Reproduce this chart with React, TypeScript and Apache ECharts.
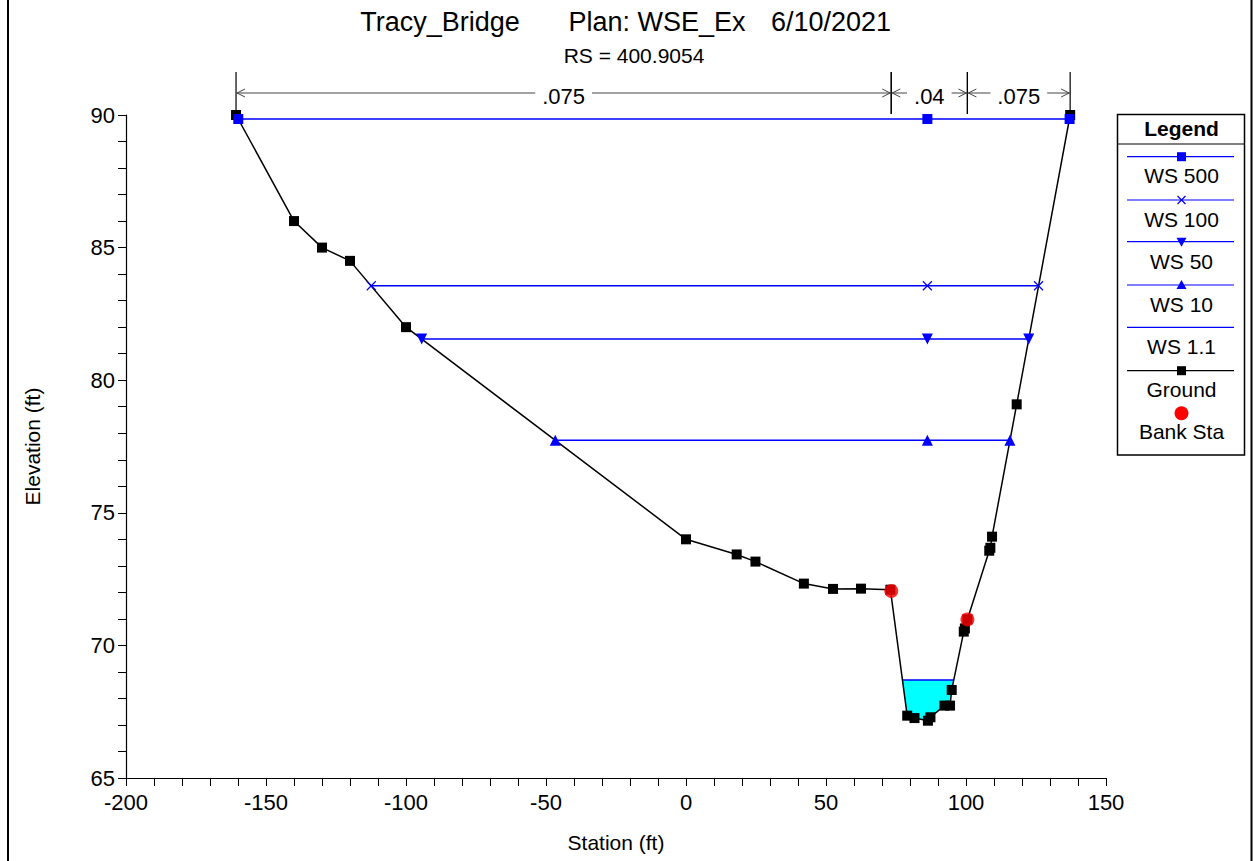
import { useEffect, useRef } from "react";
import * as echarts from "echarts";

// ---------- data ----------
const groundSta = [-160.7, -140, -130, -120, -100, 0, 18.1, 24.8, 42.1, 52.5, 62.5, 73, 79, 81.6, 86.4, 87.3, 92.3, 94.3, 94.9, 99.2, 99.6, 100.5, 108.3, 108.7, 109.3, 118.1, 137.2];
const groundElev = [90, 86, 85, 84.5, 82, 74, 73.43, 73.16, 72.33, 72.13, 72.14, 72.1, 67.35, 67.26, 67.16, 67.29, 67.73, 67.73, 68.32, 70.52, 70.64, 70.98, 73.57, 73.68, 74.1, 79.09, 90];

const bankSta = [73.3, 100.5];
const bankElev = [72.05, 70.98];

const ws500Sta = [-159.9, 86.2, 137.0];
const ws500Elev = [89.85, 89.85, 89.85];
const ws100Sta = [-112.4, 86.2, 125.9];
const ws100Elev = [83.56, 83.56, 83.56];
const ws50Sta = [-94.4, 86.2, 122.4];
const ws50Elev = [81.55, 81.55, 81.55];
const ws10Sta = [-46.7, 86.2, 115.7];
const ws10Elev = [77.74, 77.74, 77.74];
const ws11Sta = [77.3, 95.5];
const ws11Elev = [68.7, 68.7];

const fillSta = [77.3, 79, 81.6, 86.4, 87.3, 92.3, 94.3, 94.9, 95.5];
const fillElev = [68.7, 67.35, 67.26, 67.16, 67.29, 67.73, 67.73, 68.32, 68.7];

const nSta = [-160.7, 73.3, 100.5, 137.2];
const nVals = [".075", ".04", ".075"];

const legendNames = ["WS 500", "WS 100", "WS 50", "WS 10", "WS 1.1", "Ground", "Bank Sta"];

const titleParts = ["Tracy_Bridge", "Plan: WSE_Ex", "6/10/2021"];
const subTitle = "RS = 400.9054";

const FONT = '"Liberation Sans", Arial, Helvetica, sans-serif';
const BLUE = "#0000ff";

function zip(a: number[], b: number[]) {
  return a.map((v, i) => [v, b[i]]);
}

let measureCtx: CanvasRenderingContext2D | null = null;
function textWidth(t: string, font: string) {
  if (!measureCtx) measureCtx = document.createElement("canvas").getContext("2d");
  if (!measureCtx) return t.length * 10;
  measureCtx.font = font;
  return measureCtx.measureText(t).width;
}

function legendGraphic() {
  const els: any[] = [];
  const left = 1117.5, top = 114.5, w = 127, h = 340.5;
  const cx = left + w / 2 + 0.5;
  els.push({ type: "rect", shape: { x: left, y: top, width: w, height: h }, style: { fill: "#fff", stroke: "#000", lineWidth: 1.5 }, z: 100 });
  els.push({ type: "line", shape: { x1: left, y1: 144, x2: left + w, y2: 144 }, style: { stroke: "#000", lineWidth: 1.2 }, z: 101 });
  els.push({ type: "text", x: cx, y: 128, style: { text: "Legend", font: `bold 21px ${FONT}`, fill: "#000", textAlign: "center", textVerticalAlign: "middle" }, z: 101 });
  const lineYs = [156.7, 200, 241.7, 285, 327.3, 370.7, 413.3];
  const labYs = [175.7, 219.3, 261, 304.3, 346.7, 389.3, 431];
  for (let i = 0; i < legendNames.length; i++) {
    const ly = lineYs[i];
    if (i < 6) {
      els.push({ type: "line", shape: { x1: 1127, y1: ly, x2: 1234, y2: ly }, style: { stroke: i === 5 ? "#000" : BLUE, lineWidth: 1.2 }, z: 101 });
    }
    if (i === 0) els.push({ type: "rect", shape: { x: cx - 4.5, y: ly - 4.5, width: 9, height: 9 }, style: { fill: BLUE }, z: 102 });
    if (i === 1) {
      els.push({ type: "line", shape: { x1: cx - 4, y1: ly - 4, x2: cx + 4, y2: ly + 4 }, style: { stroke: BLUE, lineWidth: 1.2 }, z: 102 });
      els.push({ type: "line", shape: { x1: cx - 4, y1: ly + 4, x2: cx + 4, y2: ly - 4 }, style: { stroke: BLUE, lineWidth: 1.2 }, z: 102 });
    }
    if (i === 2) els.push({ type: "polygon", shape: { points: [[cx - 5, ly - 4], [cx + 5, ly - 4], [cx, ly + 5]] }, style: { fill: BLUE }, z: 102 });
    if (i === 3) els.push({ type: "polygon", shape: { points: [[cx - 5, ly + 4], [cx + 5, ly + 4], [cx, ly - 5]] }, style: { fill: BLUE }, z: 102 });
    if (i === 5) els.push({ type: "rect", shape: { x: cx - 4.5, y: ly - 4.5, width: 9, height: 9 }, style: { fill: "#000" }, z: 102 });
    if (i === 6) els.push({ type: "circle", shape: { cx: cx, cy: ly, r: 7 }, style: { fill: "#ff0000" }, z: 102 });
    els.push({ type: "text", x: cx, y: labYs[i], style: { text: legendNames[i], font: `21px ${FONT}`, fill: "#000", textAlign: "center", textVerticalAlign: "middle" }, z: 101 });
  }
  return els;
}

export default function App() {
  const ref = useRef<HTMLDivElement>(null);
  useEffect(() => {
    document.body.style.margin = "0";
    const chart = echarts.init(ref.current!, null, { renderer: "svg" });
    const axisCommon = {
      axisLine: { show: true, onZero: false, lineStyle: { color: "#000", width: 1.2 } },
      axisTick: { show: true, inside: false, length: 8, lineStyle: { color: "#000", width: 1 } },
      minorTick: { show: true, splitNumber: 5, length: 8, lineStyle: { color: "#000", width: 1 } },
      splitLine: { show: false },
      minorSplitLine: { show: false },
      nameTextStyle: { fontFamily: FONT, fontSize: 21, color: "#000" },
    };
    const option: any = {
      animation: false,
      backgroundColor: "#fff",
      grid: { left: 126, right: 149, top: 115, bottom: 83, containLabel: false },
      xAxis: {
        type: "value",
        min: -200,
        max: 150,
        interval: 50,
        name: "Station (ft)",
        nameLocation: "middle",
        nameGap: 54,
        ...axisCommon,
        axisLabel: { fontFamily: FONT, fontSize: 22, color: "#000", margin: 13 },
      },
      yAxis: {
        type: "value",
        min: 65,
        max: 90,
        interval: 5,
        name: "Elevation (ft)",
        nameLocation: "middle",
        nameGap: 83,
        ...axisCommon,
        axisLabel: { fontFamily: FONT, fontSize: 22, color: "#000", margin: 11 },
      },
      graphic: [
        { type: "line", shape: { x1: 8, y1: -2, x2: 8, y2: 870 }, style: { stroke: "#000", lineWidth: 2 } },
        { type: "line", shape: { x1: 1251.5, y1: -2, x2: 1251.5, y2: 870 }, style: { stroke: "#000", lineWidth: 2 } },
        { type: "text", x: 440, y: 22, style: { text: titleParts[0], font: `27px ${FONT}`, fill: "#000", textAlign: "center", textVerticalAlign: "middle" } },
        { type: "text", x: 657, y: 22, style: { text: titleParts[1], font: `27px ${FONT}`, fill: "#000", textAlign: "center", textVerticalAlign: "middle" } },
        { type: "text", x: 831, y: 22, style: { text: titleParts[2], font: `27px ${FONT}`, fill: "#000", textAlign: "center", textVerticalAlign: "middle" } },
        { type: "text", x: 634, y: 55, style: { text: subTitle, font: `21px ${FONT}`, fill: "#000", textAlign: "center", textVerticalAlign: "middle" } },
        ...legendGraphic(),
      ],
      series: [
        {
          type: "custom",
          name: "WS 1.1 fill",
          data: zip(fillSta, fillElev),
          encode: { x: 0, y: 1 },
          z: 1,
          renderItem: (params: any, api: any) => {
            if (params.dataIndex !== 0) return { type: "group", children: [] };
            const pts = fillSta.map((s, i) => api.coord([s, fillElev[i]]));
            return { type: "polygon", shape: { points: pts }, style: { fill: "#00ffff", stroke: "none" } };
          },
        },
        {
          type: "line",
          name: "WS 1.1",
          data: zip(ws11Sta, ws11Elev),
          showSymbol: false,
          lineStyle: { color: BLUE, width: 1.5 },
          z: 2,
        },
        {
          type: "line",
          name: "Ground",
          data: zip(groundSta, groundElev),
          symbol: "rect",
          symbolSize: 10,
          showAllSymbol: true,
          itemStyle: { color: "#000" },
          lineStyle: { color: "#000", width: 1.5 },
          z: 3,
        },
        {
          type: "line",
          name: "WS 500",
          data: zip(ws500Sta, ws500Elev),
          symbol: "rect",
          symbolSize: 10,
          itemStyle: { color: BLUE },
          lineStyle: { color: BLUE, width: 1.5 },
          z: 4,
        },
        {
          type: "line",
          name: "WS 100",
          data: zip(ws100Sta, ws100Elev),
          symbol: "path://M0,0L10,10M10,0L0,10",
          symbolSize: 9,
          itemStyle: { color: "none", borderColor: BLUE, borderWidth: 1.2 },
          lineStyle: { color: BLUE, width: 1.5 },
          z: 4,
        },
        {
          type: "line",
          name: "WS 50",
          data: zip(ws50Sta, ws50Elev),
          symbol: "triangle",
          symbolRotate: 180,
          symbolSize: 11,
          itemStyle: { color: BLUE },
          lineStyle: { color: BLUE, width: 1.5 },
          z: 4,
        },
        {
          type: "line",
          name: "WS 10",
          data: zip(ws10Sta, ws10Elev),
          symbol: "triangle",
          symbolSize: 11,
          itemStyle: { color: BLUE },
          lineStyle: { color: BLUE, width: 1.5 },
          z: 4,
        },
        {
          type: "scatter",
          name: "Bank Sta",
          data: zip(bankSta, bankElev),
          symbol: "circle",
          symbolSize: 14,
          itemStyle: { color: "#ff0000" },
          z: 5,
        },
        {
          type: "custom",
          name: "n values",
          data: nVals.map((v, i) => [nSta[i], nSta[i + 1], i]),
          encode: { x: 0 },
          z: 6,
          renderItem: (params: any, api: any) => {
            const idx = api.value(2);
            const x0 = api.coord([api.value(0), 90])[0];
            const x1 = api.coord([api.value(1), 90])[0];
            const top = api.coord([0, 90])[1];
            const yA = top - 22;
            const yT = top - 43;
            const yB = top - 1;
            const label = nVals[idx];
            const font = `22px ${FONT}`;
            const tw = textWidth(label, font);
            const cx = (x0 + x1) / 2;
            const gap = tw / 2 + 7;
            const lc = "#444";
            return {
              type: "group",
              children: [
                { type: "line", shape: { x1: x0, y1: yT, x2: x0, y2: yB }, style: { stroke: "#000", lineWidth: 1.2 } },
                { type: "line", shape: { x1: x1, y1: yT, x2: x1, y2: yB }, style: { stroke: "#000", lineWidth: 1.2 } },
                { type: "line", shape: { x1: x0, y1: yA, x2: cx - gap, y2: yA }, style: { stroke: lc, lineWidth: 1 } },
                { type: "line", shape: { x1: cx + gap, y1: yA, x2: x1, y2: yA }, style: { stroke: lc, lineWidth: 1 } },
                { type: "polyline", shape: { points: [[x0 + 9, yA - 4], [x0 + 1, yA], [x0 + 9, yA + 4]] }, style: { stroke: lc, lineWidth: 1, fill: "none" } },
                { type: "polyline", shape: { points: [[x1 - 9, yA - 4], [x1 - 1, yA], [x1 - 9, yA + 4]] }, style: { stroke: lc, lineWidth: 1, fill: "none" } },
                { type: "text", x: cx, y: yA + 3, style: { text: label, font, fill: "#000", textAlign: "center", textVerticalAlign: "middle" } },
              ],
            };
          },
        },
      ],
    };
    chart.setOption(option);
    return () => chart.dispose();
  }, []);
  return <div ref={ref} style={{ width: 1255, height: 861 }} />;
}
